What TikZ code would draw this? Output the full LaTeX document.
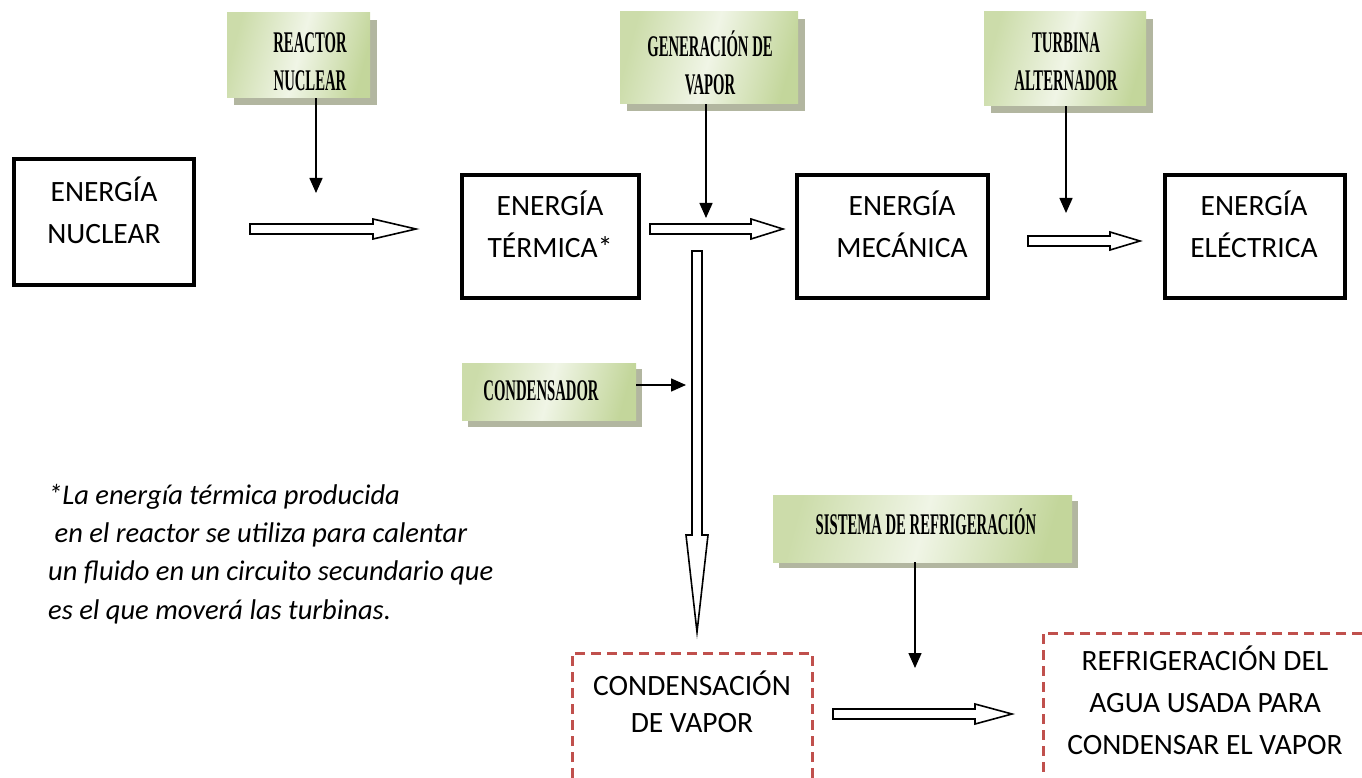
\documentclass[tikz,border=0pt]{standalone}
\usepackage{fontspec}
\setmainfont{Carlito}
\newfontfamily\condfont[FakeStretch=0.49]{Liberation Serif}
\usetikzlibrary{arrows.meta}

\definecolor{gLight}{RGB}{240,245,230}
\definecolor{gDark}{RGB}{195,214,155}
\definecolor{gShadow}{RGB}{178,182,160}
\definecolor{dred}{RGB}{192,80,77}

\tikzset{
  energybox/.style={draw=black, line width=4pt, inner sep=0pt},
  mainlbl/.style={font=\fontsize{29.5}{42}\selectfont, align=center, inner sep=0pt},
  greenbox/.style={left color=gDark!85!white, right color=gDark, middle color=gLight, shading angle=75, draw=none, inner sep=0pt},
  greenshadow/.style={fill=gShadow, draw=none},
  greenlbl/.style={font=\condfont\bfseries\fontsize{30}{38}\selectfont, align=center, inner sep=0pt},
  thinarrow/.style={draw=black, line width=1.5pt, -{Triangle[length=15pt,width=13pt]}},
  hollow/.style={draw=black, line width=1.6pt, fill=white, line join=miter},
  dashbox/.style={draw=dred, line width=3pt, dash pattern=on 10pt off 6pt},
  footlbl/.style={font=\itshape\fontsize{28.5}{38.3}\selectfont, align=left, inner sep=0pt}
}

\begin{document}
\begin{tikzpicture}[x=1pt,y=-1pt]
\useasboundingbox (0,0) rectangle (1362,778);

% ---------- energy boxes ----------
\node[energybox, minimum width=180pt, minimum height=126pt] (en) at (104,222) {};
\node[energybox, minimum width=177pt, minimum height=123pt] (et) at (550.5,236.5) {};
\node[energybox, minimum width=191pt, minimum height=123pt] (em) at (892.5,236.5) {};
\node[energybox, minimum width=180pt, minimum height=123pt] (ee) at (1255,236.5) {};

\node[mainlbl] (ten) at (104,210) {ENERGÍA\\NUCLEAR};
\node[mainlbl] (tet) at (550,224.5) {ENERGÍA\\TÉRMICA*};
\node[mainlbl] (tem) at (902,224.5) {ENERGÍA\\MECÁNICA};
\node[mainlbl] (tee) at (1254,224.5) {ENERGÍA\\ELÉCTRICA};

% ---------- green boxes ----------
\fill[greenshadow] (234,20) rectangle (377,105);
\node[greenbox, minimum width=143pt, minimum height=85pt] (rn) at (298.5,55.5) {};
\node[greenlbl] (trn) at (310,62) {REACTOR\\NUCLEAR};

\fill[greenshadow] (627,19) rectangle (805,111);
\node[greenbox, minimum width=178pt, minimum height=92pt] (gv) at (709,58) {};
\node[greenlbl] (tgv) at (710,63) {GENERACIÓN DE\\VAPOR};

\fill[greenshadow] (991,19) rectangle (1153,113);
\node[greenbox, minimum width=162pt, minimum height=94pt] (ta) at (1065,59) {};
\node[greenlbl] (tta) at (1066,62) {TURBINA\\ALTERNADOR};

\fill[greenshadow] (468,369) rectangle (642,427);
\node[greenbox, minimum width=174pt, minimum height=57pt] (cd) at (549,391.5) {};
\node[greenlbl] (tcd) at (541,391) {CONDENSADOR};

\fill[greenshadow] (779,501) rectangle (1078,568);
\node[greenbox, minimum width=299pt, minimum height=67pt] (sr) at (922.5,528.5) {};
\node[greenlbl] (tsr) at (926,522) {SISTEMA DE REFRIGERACIÓN};

% ---------- thin arrows ----------
\coordinate (a1) at (316,193);
\coordinate (a2) at (706,218);
\coordinate (a3) at (1066,213);
\coordinate (a4) at (686,385);
\coordinate (a5) at (915,668);
\draw[thinarrow] (rn.south -| a1) -- (a1);
\draw[thinarrow] (gv.south -| a2) -- (a2);
\draw[thinarrow] (ta.south -| a3) -- (a3);
\draw[thinarrow] (cd.east |- a4) -- (a4);
\draw[thinarrow] (sr.south -| a5) -- (a5);

% ---------- hollow arrows ----------
\draw[hollow] (250,224) -- (373,224) -- (373,219) -- (416,229) -- (373,239) -- (373,234) -- (250,234) -- cycle;
\draw[hollow] (650,224) -- (751,224) -- (751,219) -- (783,229) -- (751,239) -- (751,234) -- (650,234) -- cycle;
\draw[hollow] (1028,236) -- (1110,236) -- (1110,232) -- (1140,241) -- (1110,250) -- (1110,246) -- (1028,246) -- cycle;
\draw[hollow] (833,709) -- (975,709) -- (975,704) -- (1012,714) -- (975,724) -- (975,719) -- (833,719) -- cycle;
\draw[hollow] (692,251) -- (702,251) -- (702,535) -- (708,535) -- (697,632) -- (686,535) -- (692,535) -- cycle;

% ---------- dashed boxes ----------
\draw[dashbox] (572,778) -- (572,653) -- (812,653) -- (812,778);
\node[mainlbl, font=\fontsize{29.5}{37.5}\selectfont] (tcv) at (692,702) {CONDENSACIÓN\\DE VAPOR};
\draw[dashbox] (1362,633) -- (1043,633) -- (1043,778);
\node[mainlbl] (trf) at (1205,700) {REFRIGERACIÓN DEL\\AGUA USADA PARA\\CONDENSAR EL VAPOR};

% ---------- footnote ----------
\node[footlbl, anchor=west] (foot) at (48,554) {*La energía térmica producida\\\ en el reactor se utiliza para calentar\\un fluido en un circuito secundario que\\es el que moverá las turbinas.};
\end{tikzpicture}
\end{document}
